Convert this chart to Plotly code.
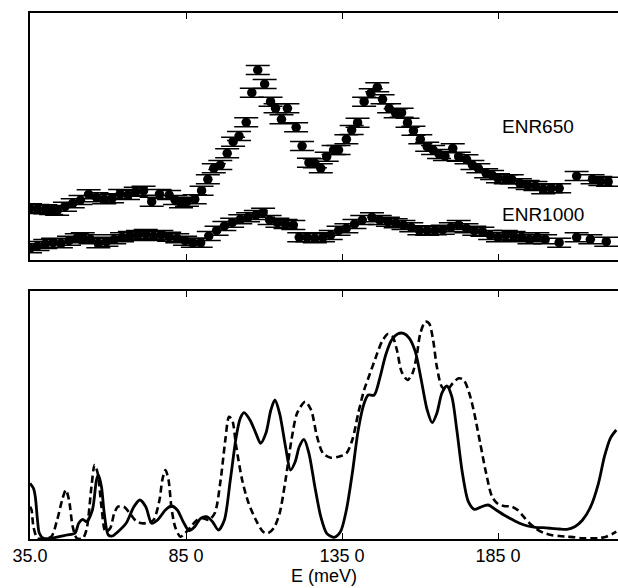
import plotly.graph_objects as go
from plotly.subplots import make_subplots

# ---- top panel: measured spectra (arbitrary intensity units) ----
E650 = [35.0, 37.4, 39.9, 41.8, 43.7, 46.2, 48.7, 51.2, 53.8, 56.3, 58.8, 61.3, 63.9, 66.4, 68.9, 71.4,
        74.0, 76.5, 79.6, 81.5, 83.4, 85.3, 87.8, 90.0, 92.0, 93.9, 96.0, 98.2, 100.1, 102.0, 104.3,
        106.1, 108.0, 110.2, 112.1, 113.7, 115.6, 117.5, 120.3, 122.2, 124.4, 126.3, 128.2, 130.1,
        132.3, 133.9, 136.4, 138.1, 140.0, 142.1, 144.2, 146.3, 148.0, 150.1, 152.2, 154.1, 156.0,
        157.9, 160.1, 162.3, 164.2, 166.1, 168.0, 170.5, 172.4, 174.9, 176.8, 178.7, 181.2, 183.1,
        185.0, 187.5, 189.4, 192.0, 194.5, 197.0, 199.5, 202.0, 204.6, 210.2, 215.3, 217.8, 220.3]
I650 = [51.7, 51.0, 50.7, 50.0, 49.3, 53.3, 56.7, 60.0, 65.7, 62.7, 60.7, 61.7, 66.0, 65.0, 68.3, 69.3,
        58.3, 66.0, 65.0, 60.0, 56.7, 58.3, 60.7, 69.3, 80.7, 91.7, 95.0, 106.7, 118.3, 124.0, 137.7,
        167.3, 190.0, 176.0, 158.3, 151.7, 140.7, 151.7, 132.7, 114.0, 97.3, 96.7, 91.7, 103.3,
        110.0, 110.0, 120.7, 130.0, 137.3, 158.3, 166.7, 172.7, 160.7, 151.7, 146.7, 147.3, 137.3,
        129.3, 120.7, 113.3, 110.0, 106.0, 104.0, 111.7, 103.3, 100.7, 95.0, 91.7, 86.7, 85.0,
        81.7, 80.7, 80.7, 76.7, 75.0, 74.0, 70.7, 71.7, 71.7, 84.0, 80.7, 79.0, 78.3]

E1000 = [35.0, 37.4, 39.9, 42.4, 44.9, 47.5, 50.0, 51.9, 54.4, 56.9, 59.5, 62.0, 64.5, 67.0, 69.6, 72.1,
         74.6, 77.1, 79.6, 82.2, 84.7, 87.2, 89.7, 92.3, 94.8, 97.3, 99.8, 102.4, 104.9, 107.4, 109.7,
         111.8, 114.3, 116.9, 119.4, 121.3, 123.8, 126.3, 128.9, 131.4, 133.9, 136.4, 139.0, 141.5,
         144.6, 147.1, 149.7, 152.2, 154.7, 157.2, 159.8, 162.3, 164.8, 167.3, 169.9, 172.4, 174.9,
         177.4, 180.0, 182.5, 185.0, 187.5, 190.0, 192.6, 195.1, 197.6, 200.1, 204.6, 210.2, 214.6,
         219.7]
I1000 = [11.7, 14.0, 16.0, 17.3, 16.7, 19.3, 21.7, 22.7, 20.7, 16.7, 18.3, 20.7, 22.7, 24.0, 25.0, 26.0,
         24.0, 25.0, 23.3, 21.7, 19.3, 17.3, 17.3, 24.0, 29.3, 34.0, 37.3, 40.7, 42.7, 45.0, 47.3,
         40.0, 37.3, 36.0, 35.0, 22.7, 22.7, 21.7, 22.7, 25.0, 29.3, 31.7, 36.0, 40.0,
         42.7, 40.0, 38.3, 36.7, 35.0, 32.7, 29.7, 29.3, 29.7, 30.3, 32.7, 35.0, 31.7,
         29.3, 28.3, 25.0, 22.7, 25.0, 24.0, 22.7, 20.7, 22.7, 20.7, 17.3, 22.7, 20.7,
         18.3]
ERR = 4.5

# ---- bottom panel: calculated spectra ----
E_solid = [35.0, 36.1, 36.7, 37.4, 38.0, 39.3, 41.8, 44.3, 46.8, 49.4, 50.6, 51.9, 53.1, 55.0, 56.3, 56.9,
           57.9, 58.8, 60.1, 61.4, 63.2, 65.8, 68.3, 70.2, 72.1, 74.0, 75.9, 78.4, 80.3, 82.2, 84.1,
           86.0, 87.8, 89.7, 91.6, 93.5, 95.4, 97.3, 99.2, 101.1, 102.4, 103.6, 105.5, 107.4, 108.9,
           110.6, 112.2, 113.5, 115.0, 116.9, 118.5, 120.0, 121.3, 122.8, 124.4, 126.3, 128.2, 130.1,
           132.4, 134.5, 136.4, 138.3, 140.2, 142.1, 143.4, 145.3, 147.1, 149.0, 150.9, 152.8, 154.7,
           156.6, 158.5, 160.4, 162.3, 163.9, 165.4, 167.0, 168.6, 170.2, 171.8, 173.6, 175.5, 177.4,
           179.3, 181.8, 184.4, 186.9, 189.4, 191.9, 194.5, 197.0, 199.5, 202.0, 204.6, 207.1, 209.6,
           212.1, 214.7, 217.2, 219.1, 221.0, 222.9]
S_solid = [55.7, 50.7, 42.3, 19.0, 5.7, 0.7, 0.7, 2.3, 4.0, 5.7, 15.7, 19.7, 17.3, 29.0, 59.0, 64.0,
           52.3, 25.7, 4.0, 3.0, 7.3, 15.7, 32.3, 39.0, 32.3, 15.7, 19.0, 29.0, 33.0, 29.0, 17.3,
           8.3, 12.3, 20.7, 22.3, 17.3, 9.0, 19.0, 59.0, 102.3, 120.7, 126.3, 119.0, 105.7, 95.7,
           105.7, 129.0, 139.0, 125.7, 92.3, 69.0, 77.3, 92.3, 99.7, 85.7, 52.3, 22.3, 5.7,
           1.7, 7.3, 29.0, 65.7, 109.0, 135.7, 144.0, 144.0, 160.7, 184.0, 199.0, 205.0, 205.7,
           200.7, 187.3, 159.0, 129.0, 116.3, 125.7, 145.7, 153.0, 142.3, 109.0, 65.7, 37.3, 29.7,
           31.7, 34.0, 29.0, 24.0, 19.7, 15.7, 13.0, 11.7, 11.3, 10.7, 10.0, 9.7, 12.3,
           19.0, 32.3, 55.7, 82.3, 100.7, 109.0]

E_dash = [35.0, 35.5, 36.1, 37.4, 39.3, 41.8, 43.7, 45.3, 46.5, 47.5, 48.7, 50.0, 51.9, 53.1, 54.7, 55.7,
          56.7, 57.9, 59.2, 60.7, 62.0, 63.2, 65.1, 67.0, 68.9, 70.8, 72.7, 74.6, 76.5, 77.4, 78.4,
          79.4, 80.3, 81.5, 83.2, 84.7, 86.6, 88.5, 90.4, 92.3, 94.2, 96.1, 97.6, 98.8, 99.8, 101.1,
          103.0, 104.9, 107.4, 109.7, 111.2, 113.1, 115.0, 116.9, 118.8, 120.6, 123.2, 125.1, 127.0,
          128.9, 131.4, 133.9, 136.4, 138.3, 140.2, 142.1, 144.0, 145.9, 147.8, 149.7, 151.2, 152.6,
          154.1, 156.0, 157.6, 158.9, 160.1, 161.7, 162.9, 164.2, 165.4, 167.0, 168.6, 170.5, 172.4,
          174.0, 175.8, 177.4, 179.3, 181.2, 183.1, 185.0, 186.9, 189.4, 191.3, 193.2, 195.1, 197.0,
          199.5, 202.0, 204.6, 207.1, 209.6, 212.1, 214.7, 217.2, 219.7, 221.6, 222.9]
S_dash = [32.3, 29.0, 12.3, 0.7, 0.7, 2.3, 19.0, 39.0, 49.0, 39.0, 12.3, 0.7, 0.7, 9.0, 52.3, 74.0,
          65.7, 32.3, 7.3, 10.7, 25.7, 32.3, 32.3, 25.7, 18.3, 15.7, 16.3, 19.0, 39.0, 59.0, 69.0,
          59.0, 32.3, 12.3, 2.3, 5.7, 12.3, 19.0, 20.7, 19.0, 25.7, 59.0, 99.0, 122.3, 119.0, 92.3,
          59.0, 37.3, 19.0, 7.3, 5.7, 10.7, 25.7, 59.0, 99.0, 125.7, 137.3, 129.0, 102.3,
          85.7, 81.3, 82.3, 85.7, 99.0, 125.7, 149.0, 165.7, 182.3, 197.3, 205.0, 202.3, 189.0,
          167.3, 159.0, 165.7, 182.3, 205.7, 217.3, 215.7, 199.0, 172.3, 152.3, 149.0, 155.7, 160.7,
          159.0, 145.7, 125.7, 95.7, 65.7, 42.3, 35.0, 33.0, 32.3, 29.0, 22.3, 15.7, 10.7,
          6.3, 4.0, 3.0, 2.3, 1.7, 0.7, 0.7, 0.7, 2.3, 5.0, 7.3]

TICK_VALS = [35, 85, 135, 185]
TICK_TEXT = ["35.0", "85 0", "135 0", "185 0"]
X_RANGE = [35, 223.46]

FONT = "Liberation Sans, Arial, sans-serif"

fig = make_subplots(rows=2, cols=1, vertical_spacing=0.0)

err = dict(type="constant", value=ERR, color="black", thickness=1.6, width=12)
fig.add_trace(go.Scatter(x=E650, y=I650, mode="markers",
                         marker=dict(color="black", size=9.5, symbol="circle"),
                         error_y=err, showlegend=False), row=1, col=1)
fig.add_trace(go.Scatter(x=E1000, y=I1000, mode="markers",
                         marker=dict(color="black", size=9.5, symbol="circle"),
                         error_y=err, showlegend=False), row=1, col=1)

fig.add_trace(go.Scatter(x=E_dash, y=S_dash, mode="lines",
                         line=dict(color="black", width=2.6, dash="7px,4px", shape="spline", smoothing=0.8),
                         showlegend=False), row=2, col=1)
fig.add_trace(go.Scatter(x=E_solid, y=S_solid, mode="lines",
                         line=dict(color="black", width=2.8, shape="spline", smoothing=0.8),
                         showlegend=False), row=2, col=1)

xcommon = dict(range=X_RANGE, tickmode="array", tickvals=TICK_VALS, ticks="inside", ticklen=6,
               tickwidth=1.2, tickcolor="black", showline=True, linecolor="black", linewidth=1.5,
               mirror="ticks", showgrid=False, zeroline=False)
fig.update_xaxes(**xcommon, showticklabels=False, domain=[0, 1], row=1, col=1)
fig.update_xaxes(**xcommon, ticktext=TICK_TEXT, showticklabels=True,
                 tickfont=dict(family=FONT, size=18, color="black"),
                 title=dict(text="E (meV)", font=dict(family=FONT, size=18, color="black"), standoff=2),
                 domain=[0, 1], row=2, col=1)

ycommon = dict(showline=True, linecolor="black", linewidth=1.5, mirror=False, ticks="",
               showticklabels=False, showgrid=False, zeroline=False)
fig.update_yaxes(**ycommon, range=[0, 247], domain=[0.5304, 1.0], row=1, col=1)
fig.update_yaxes(**ycommon, range=[0, 248], domain=[0.0, 0.4715], row=2, col=1)

fig.add_annotation(x=185.6, y=134, xref="x", yref="y", text="ENR650", showarrow=False,
                   xanchor="left", yanchor="middle", font=dict(family=FONT, size=19, color="black"))
fig.add_annotation(x=185.6, y=46, xref="x", yref="y", text="ENR1000", showarrow=False,
                   xanchor="left", yanchor="middle", font=dict(family=FONT, size=19, color="black"))

fig.update_layout(width=618, height=588, margin=dict(l=30, r=0, t=13, b=49),
                  paper_bgcolor="white", plot_bgcolor="white",
                  font=dict(family=FONT, size=18, color="black"))

fig.write_html("out.html")
